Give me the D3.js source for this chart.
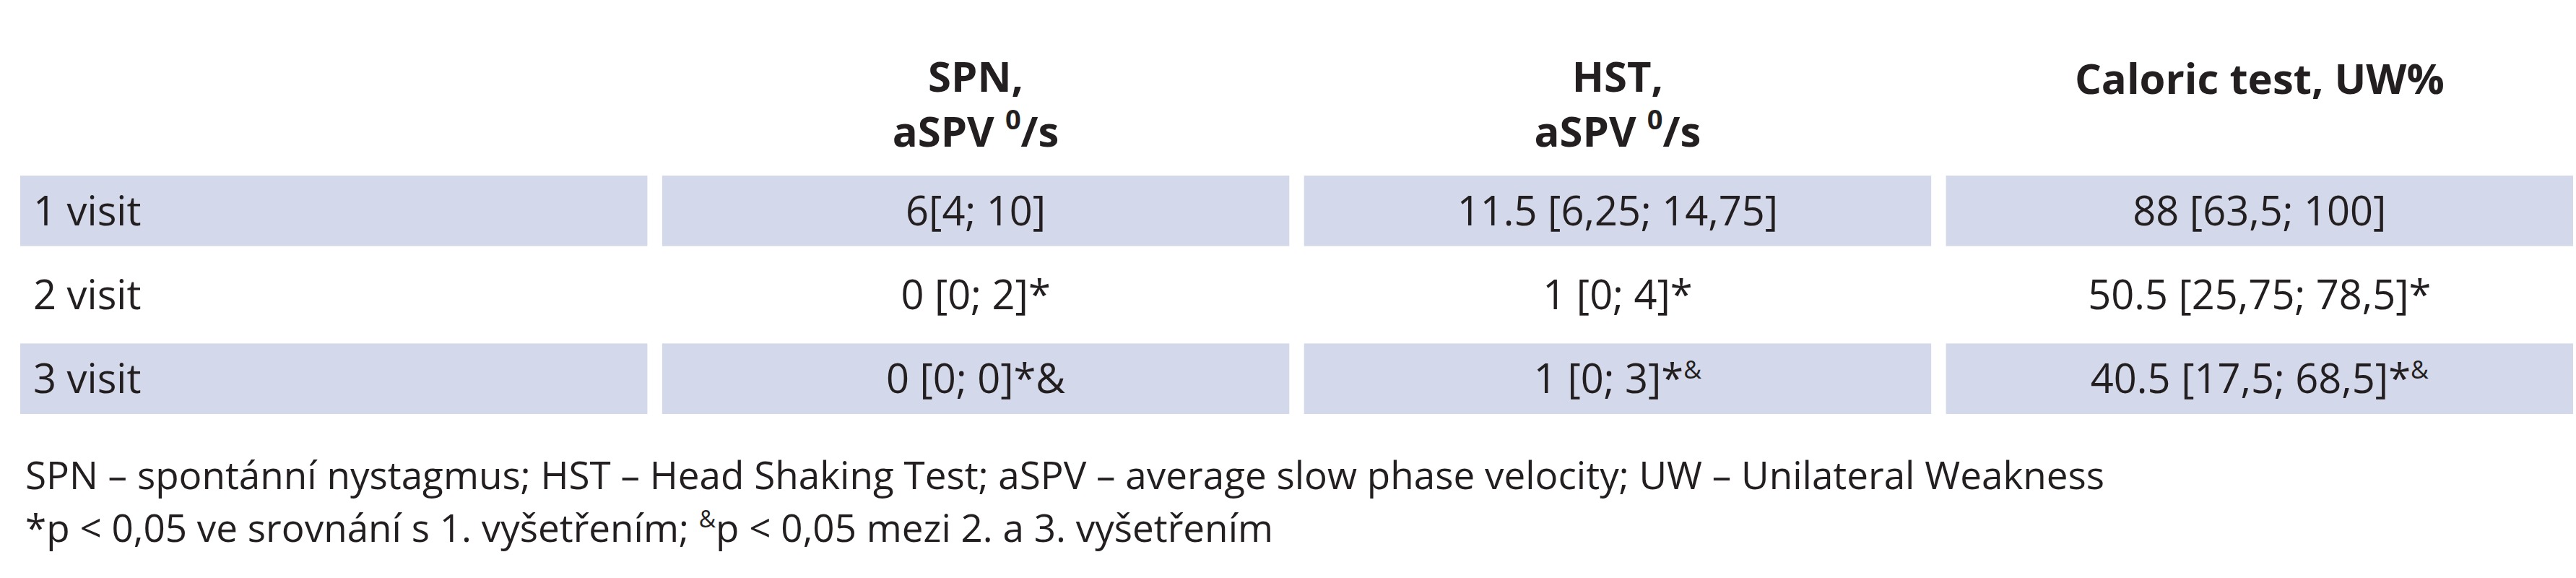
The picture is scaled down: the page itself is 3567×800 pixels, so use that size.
<!DOCTYPE html>
<html>
<head>
<meta charset="utf-8">
<script src="https://cdn.jsdelivr.net/npm/d3@7"></script>
<style>
  body { margin: 0; background: #fff; }
  text { font-family: "Open Sans", "Noto Sans", sans-serif; fill: #231f20; }
</style>
</head>
<body>
<div id="table"></div>
<script>
// table content
const columns = ["", "SPN", "HST", "Caloric"];
const headerLines = [
  [],
  [["SPN,"], ["aSPV ", "0", "/s"]],
  [["HST,"], ["aSPV ", "0", "/s"]],
  [["Caloric test, UW%"]]
];
const visits = ["1 visit", "2 visit", "3 visit"];
// each cell: [main text, superscript]
const spnValues = [["6[4; 10]", ""], ["0 [0; 2]*", ""], ["0 [0; 0]*&", ""]];
const hstValues = [["11.5 [6,25; 14,75]", ""], ["1 [0; 4]*", ""], ["1 [0; 3]*", "&"]];
const caloricValues = [["88 [63,5; 100]", ""], ["50.5 [25,75; 78,5]*", ""], ["40.5 [17,5; 68,5]*", "&"]];
const footnote1 = "SPN – spontánní nystagmus; HST – Head Shaking Test; aSPV – average slow phase velocity; UW – Unilateral Weakness";
const footnote2 = ["*p < 0,05 ve srovnání s 1. vyšetřením; ", "&", "p < 0,05 mezi 2. a 3. vyšetřením"];

const W = 3567, H = 800;
const svg = d3.select("#table").append("svg").attr("width", W).attr("height", H);

const x = d3.scaleBand().domain(columns).range([28, 3563]).paddingInner(0.023);
const y = d3.scaleBand().domain(visits).range([243, 573]).paddingInner(0.16);

// shaded bands for rows 1 and 3
visits.forEach((v, i) => {
  if (i === 1) return;
  columns.forEach(c => {
    svg.append("rect")
      .attr("x", x(c)).attr("y", y(v))
      .attr("width", x.bandwidth()).attr("height", y.bandwidth())
      .attr("fill", "#d3d8ea");
  });
});

// header
headerLines.forEach((lines, ci) => {
  const cx = x(columns[ci]) + x.bandwidth() / 2;
  lines.forEach((parts, li) => {
    const by = lines.length === 1 ? 130 : 127 + li * 76;
    const t = svg.append("text").attr("x", cx).attr("y", by)
      .attr("text-anchor", "middle").style("font-size", "58px").style("font-weight", "bold");
    parts.forEach((p, pi) => {
      const ts = t.append("tspan").text(p);
      if (pi === 1) ts.attr("dy", -24).style("font-size", "38px");
      if (pi === 2) ts.attr("dy", 24);
    });
  });
});

// body
const values = [spnValues, hstValues, caloricValues];
visits.forEach((v, ri) => {
  const by = y(v) + y.bandwidth() / 2 + 20;
  svg.append("text").attr("x", x(columns[0]) + 18).attr("y", by)
    .style("font-size", "56px").text(v);
  values.forEach((vals, ci) => {
    const t = svg.append("text")
      .attr("x", x(columns[ci + 1]) + x.bandwidth() / 2).attr("y", by)
      .attr("text-anchor", "middle").style("font-size", "56px");
    t.append("tspan").text(vals[ri][0]);
    if (vals[ri][1]) t.append("tspan").attr("dy", -20).style("font-size", "34px").text(vals[ri][1]);
  });
});

// footnotes
svg.append("text").attr("x", 35).attr("y", 677).style("font-size", "53px").text(footnote1);
const f2 = svg.append("text").attr("x", 35).attr("y", 750).style("font-size", "53px");
f2.append("tspan").text(footnote2[0]);
f2.append("tspan").attr("dy", -20).style("font-size", "32px").text(footnote2[1]);
f2.append("tspan").attr("dy", 20).text(footnote2[2]);
</script>
</body>
</html>
